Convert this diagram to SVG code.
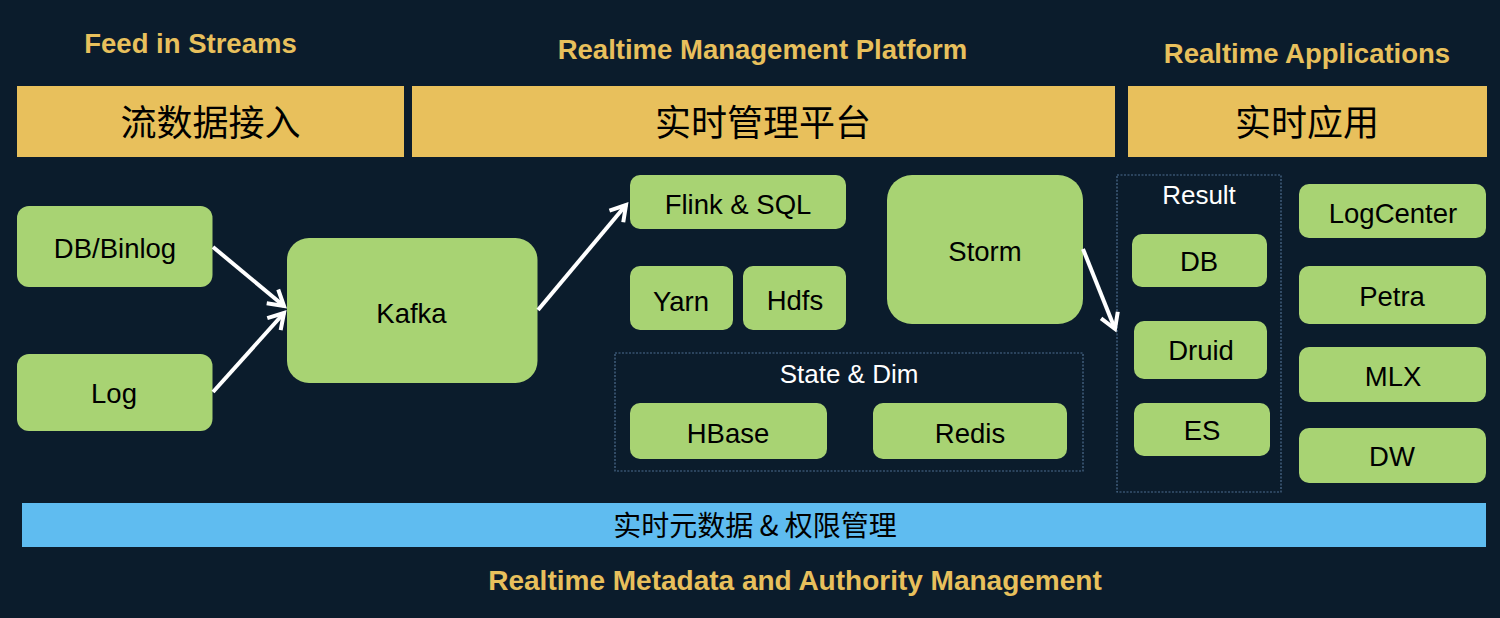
<svg xmlns="http://www.w3.org/2000/svg" width="1500" height="618" viewBox="0 0 1500 618">
<defs>
<style>
.hdr{font-family:"Liberation Sans",Arial,sans-serif;font-weight:bold;font-size:27.5px;fill:#e8c05c;text-anchor:middle}
.bar{fill:#e8c05c}
.cjk{font-family:"Noto Sans CJK SC","Noto Sans",sans-serif;font-size:36px;fill:#000;text-anchor:middle}
.node{fill:#a8d373}
.lbl{font-family:"Liberation Sans",Arial,sans-serif;font-size:27.5px;fill:#000;text-anchor:middle}
.wlbl{font-family:"Liberation Sans",Arial,sans-serif;font-size:26px;fill:#fff;text-anchor:middle}
.grp{fill:none;stroke:#4d6d8f;stroke-width:1.2;stroke-dasharray:2 1.5}
.conn{stroke:#fff;stroke-width:4;fill:none;marker-end:url(#arr)}
</style>
<marker id="arr" markerUnits="userSpaceOnUse" markerWidth="30" markerHeight="30" refX="0" refY="0" viewBox="-20 -15 30 30" orient="auto">
<path d="M-15,-9 L0,0 L-15,9" fill="none" stroke="#fff" stroke-width="4" stroke-linejoin="miter"/>
</marker>
</defs>
<rect width="1500" height="618" fill="#0b1c2c"/>

<g id="headers">
<text class="hdr" x="190.5" y="53">Feed in Streams</text>
<text class="hdr" x="762.5" y="59">Realtime Management Platform</text>
<text class="hdr" x="1307" y="63">Realtime Applications</text>
</g>

<g id="bar-feed">
<rect class="bar" x="17" y="86" width="387" height="71"/>
<text class="cjk" x="210.5" y="136">流数据接入</text>
</g>
<g id="bar-platform">
<rect class="bar" x="412" y="86" width="703" height="71"/>
<text class="cjk" x="763" y="136">实时管理平台</text>
</g>
<g id="bar-apps">
<rect class="bar" x="1128" y="86" width="359" height="71"/>
<text class="cjk" x="1307" y="136">实时应用</text>
</g>

<g id="node-dbbinlog">
<rect class="node" x="17" y="206" width="195.5" height="81" rx="12"/>
<text class="lbl" x="115" y="258">DB/Binlog</text>
</g>
<g id="node-log">
<rect class="node" x="17" y="354" width="195.5" height="77" rx="12"/>
<text class="lbl" x="114" y="403">Log</text>
</g>
<g id="node-kafka">
<rect class="node" x="287" y="238" width="250.5" height="145" rx="22"/>
<text class="lbl" x="411.5" y="323">Kafka</text>
</g>
<g id="node-flink">
<rect class="node" x="630" y="175" width="216" height="54" rx="10"/>
<text class="lbl" x="738" y="214">Flink &amp; SQL</text>
</g>
<g id="node-yarn">
<rect class="node" x="630" y="266" width="103" height="64" rx="10"/>
<text class="lbl" x="681" y="311">Yarn</text>
</g>
<g id="node-hdfs">
<rect class="node" x="743" y="266" width="103" height="64" rx="10"/>
<text class="lbl" x="795" y="310">Hdfs</text>
</g>
<g id="node-storm">
<rect class="node" x="887" y="175" width="196" height="149" rx="25"/>
<text class="lbl" x="985" y="261">Storm</text>
</g>

<g id="group-state">
<rect class="grp" x="615" y="353" width="468" height="118"/>
<text class="wlbl" x="849" y="383">State &amp; Dim</text>
</g>
<g id="node-hbase">
<rect class="node" x="630" y="403" width="197" height="56" rx="10"/>
<text class="lbl" x="728" y="443">HBase</text>
</g>
<g id="node-redis">
<rect class="node" x="873" y="403" width="194" height="56" rx="10"/>
<text class="lbl" x="970" y="443">Redis</text>
</g>

<g id="group-result">
<rect class="grp" x="1117" y="175" width="164" height="317"/>
<text class="wlbl" x="1199" y="204">Result</text>
</g>
<g id="node-db">
<rect class="node" x="1132" y="234" width="135" height="53" rx="10"/>
<text class="lbl" x="1199" y="271">DB</text>
</g>
<g id="node-druid">
<rect class="node" x="1134" y="321" width="133" height="58" rx="10"/>
<text class="lbl" x="1201" y="360">Druid</text>
</g>
<g id="node-es">
<rect class="node" x="1134" y="403" width="136" height="53" rx="10"/>
<text class="lbl" x="1202" y="440">ES</text>
</g>

<g id="node-logcenter">
<rect class="node" x="1299" y="184" width="187" height="54" rx="10"/>
<text class="lbl" x="1393" y="223">LogCenter</text>
</g>
<g id="node-petra">
<rect class="node" x="1299" y="266" width="187" height="58" rx="10"/>
<text class="lbl" x="1392" y="306">Petra</text>
</g>
<g id="node-mlx">
<rect class="node" x="1299" y="347" width="187" height="55" rx="10"/>
<text class="lbl" x="1393" y="386">MLX</text>
</g>
<g id="node-dw">
<rect class="node" x="1299" y="428" width="187" height="55" rx="10"/>
<text class="lbl" x="1392" y="466">DW</text>
</g>

<g id="bar-meta">
<rect x="22" y="503" width="1464" height="44" fill="#5fbcf0"/>
<text x="755" y="536" font-family="'Noto Sans CJK SC','Noto Sans',sans-serif" font-size="28" fill="#000" text-anchor="middle">实时元数据 &amp; 权限管理</text>
</g>
<text class="hdr" x="795" y="590" style="font-size:28px">Realtime Metadata and Authority Management</text>

<g id="connectors">
<line class="conn" x1="213" y1="247" x2="284" y2="306"/>
<line class="conn" x1="213" y1="392" x2="284" y2="313"/>
<line class="conn" x1="538" y1="310" x2="626" y2="205"/>
<line class="conn" x1="1083" y1="249" x2="1115" y2="329"/>
</g>
</svg>
